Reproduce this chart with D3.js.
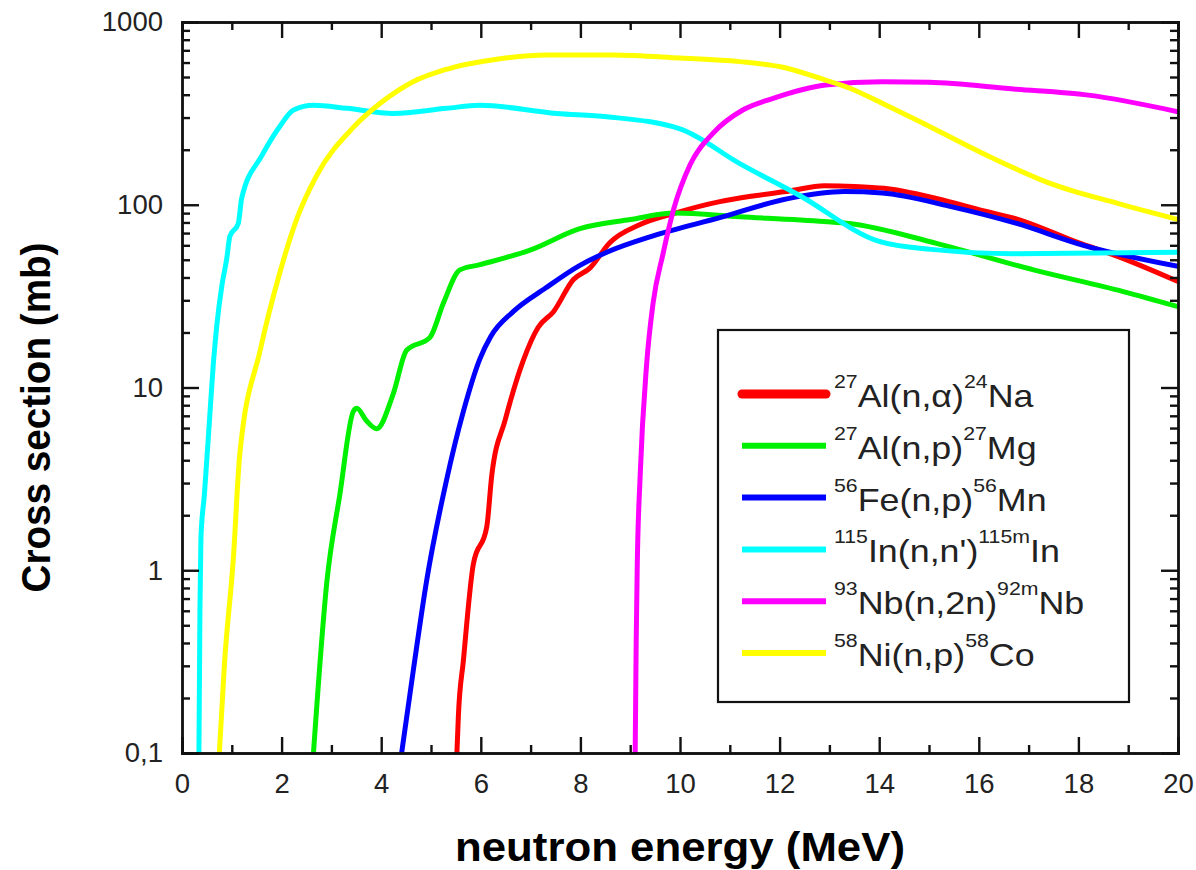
<!DOCTYPE html>
<html lang="en">
<head>
<meta charset="UTF-8">
<title>Activation cross sections</title>
<script src="https://d3js.org/d3.v7.min.js"></script>
<style>
    body { margin: 0; background: #fff; }
    svg { display: block; font-family: "Liberation Sans", Arial, sans-serif; }
    .axis path, .axis line { stroke: #111; stroke-width: 2.4; }
    .axis text { font-size: 27.5px; fill: #222; }
</style>
</head>
<body>
<svg id="chart" width="1196" height="870"></svg>
<script>
// series data: [neutron energy (MeV), cross section (mb)]
const alNa = [[5.52,0.1],[5.55,0.16],[5.65,0.32],[5.85,1.08],[6.12,1.73],[6.22,3.3],[6.49,6.65],[6.85,14],[7.15,21.3],
    [7.46,26],[7.86,39],[8.19,45],[8.59,62],[9.2,78],[9.9,90],[10.8,104],[11.5,112],[12.2,119],[12.9,127],[13.5,126],
    [14.1,123],[15.4,104],[16.0,94],[16.8,83],[18.0,62],[18.8,52],[20,38]];
const alMg = [[2.64,0.1],[2.91,0.87],[3.17,2.6],[3.44,7.4],[3.51,7.7],[3.7,6.6],[3.91,5.95],[4.24,9.2],[4.51,16],
    [4.98,18.8],[5.25,29],[5.58,44],[5.98,47],[6.99,56.5],[7.99,74],[9.0,83],[9.9,90],[11.2,86],[12.9,81],[13.4,79],
    [15.15,61.5],[17.1,44],[18.9,33.5],[20,27.7]];
const feMn = [[4.41,0.1],[4.65,0.29],[4.91,0.87],[5.31,3.1],[5.65,7.4],[5.98,14.3],[6.2,19],[6.65,26],[7.3,35],
    [7.99,46.6],[8.53,55],[9.46,67.6],[10.8,85],[12.17,108],[13.3,118],[14.06,116],[15.42,98],[16.76,79],[18.1,60],[20,46]];
const inIn = [[0.34,0.1],[0.36,0.6],[0.38,1.5],[0.45,2.6],[0.55,6.5],[0.63,13.6],[0.7,22],[0.8,36],[0.9,51],
    [0.96,67],[1.13,79],[1.2,109],[1.6,185],[1.97,270],[2.24,330],[2.64,350],[3.31,337],[4.24,316],[5.31,337],
    [5.98,350],[7.52,316],[8.53,303],[10.0,260],[11.2,168],[12.41,112],[14.0,63],[15.04,57],[16.7,54],[20,55]];
const nbNb = [[9.1,0.1],[9.12,0.4],[9.14,1.0],[9.2,3.3],[9.33,13.4],[9.46,29],[9.66,54],[9.87,94],[10.2,165],
    [10.66,246],[11.26,330],[11.87,382],[12.92,452],[14.06,471],[15.0,468],[16.7,430],[18.2,398],[20,323]];
const niCo = [[0.75,0.1],[0.85,0.3],[1.03,1.15],[1.16,4.3],[1.57,16],[1.97,43],[2.3,83],[2.7,144],[3.44,265],[3.98,359],
    [4.64,471],[5.31,551],[6.32,625],[7.32,660],[8.66,660],[10,635],[11.19,607],[12.02,569],[12.92,481],[13.41,434],
    [14.06,359],[14.75,291],[16.22,183],[17.43,131],[18.77,102],[20,83]];

const seriesData = [alNa, alMg, feMn, inIn, nbNb, niCo];
const seriesColors = ["#ff0000", "#00f000", "#0000ff", "#00ffff", "#ff00ff", "#ffff00"];
// legend labels, superscripts marked with "^"
const seriesLabels = [
    ["^27", "Al(n,α)", "^24", "Na"],
    ["^27", "Al(n,p)", "^27", "Mg"],
    ["^56", "Fe(n,p)", "^56", "Mn"],
    ["^115", "In(n,n')", "^115m", "In"],
    ["^93", "Nb(n,2n)", "^92m", "Nb"],
    ["^58", "Ni(n,p)", "^58", "Co"]
];

const xMajorTicks = [0, 2, 4, 6, 8, 10, 12, 14, 16, 18, 20];
const xMinorTicks = [1, 3, 5, 7, 9, 11, 13, 15, 17, 19];
const yMajorTicks = [0.1, 1, 10, 100, 1000];
const yTickLabels = ["0,1", "1", "10", "100", "1000"];
const xTitle = "neutron energy (MeV)";
const yTitle = "Cross section (mb)";

const plotLeft = 182, plotRight = 1178, plotTop = 22, plotBottom = 753;
const svg = d3.select("#chart");

const x = d3.scaleLinear().domain([0, 20]).range([plotLeft, plotRight]);
const y = d3.scaleLog().domain([0.1, 1000]).range([plotBottom, plotTop]);

const yMinorTicks = [];
[0.1, 1, 10, 100].forEach(d => { for (let k = 2; k <= 9; k++) yMinorTicks.push(d * k); });

// clip for the curves
svg.append("clipPath").attr("id", "plotClip")
    .append("rect").attr("x", plotLeft).attr("y", plotTop)
    .attr("width", plotRight - plotLeft).attr("height", plotBottom - plotTop);

const line = d3.line()
    .x(d => x(d[0]))
    .y(d => y(d[1]))
    .curve(d3.curveMonotoneX);

svg.append("g").attr("clip-path", "url(#plotClip)")
    .selectAll("path")
    .data(seriesData)
    .join("path")
    .attr("d", line)
    .attr("fill", "none")
    .attr("stroke", (d, i) => seriesColors[i])
    .attr("stroke-width", 5)
    .attr("stroke-linejoin", "round");

// axes, ticks pointing inward
function addAxis(axis, tx, ty) {
    const g = svg.append("g").attr("class", "axis")
        .attr("transform", `translate(${tx},${ty})`)
        .call(axis);
    g.select(".domain").attr("fill", "none");
    return g;
}

const bx = addAxis(d3.axisBottom(x).tickValues(xMajorTicks).tickSize(-16).tickPadding(15), 0, plotBottom);
bx.selectAll("text").attr("dy", "0.9em");
addAxis(d3.axisBottom(x).tickValues(xMinorTicks).tickSize(-8).tickFormat(""), 0, plotBottom);
addAxis(d3.axisTop(x).tickValues(xMajorTicks).tickSize(-16).tickFormat(""), 0, plotTop);
addAxis(d3.axisTop(x).tickValues(xMinorTicks).tickSize(-8).tickFormat(""), 0, plotTop);

addAxis(d3.axisLeft(y).tickValues(yMajorTicks).tickSize(-17).tickPadding(19)
    .tickFormat((d, i) => yTickLabels[i]), plotLeft, 0);
addAxis(d3.axisLeft(y).tickValues(yMinorTicks).tickSize(-8).tickFormat(""), plotLeft, 0);
addAxis(d3.axisRight(y).tickValues(yMajorTicks).tickSize(-17).tickFormat(""), plotRight, 0);
addAxis(d3.axisRight(y).tickValues(yMinorTicks).tickSize(-8).tickFormat(""), plotRight, 0);

// axis titles
svg.append("text")
    .attr("x", (plotLeft + plotRight) / 2).attr("y", 861)
    .attr("text-anchor", "middle")
    .attr("font-size", 40).attr("font-weight", "bold")
    .attr("textLength", 450).attr("lengthAdjust", "spacingAndGlyphs")
    .text(xTitle);

svg.append("text")
    .attr("transform", `translate(50,${(plotTop + plotBottom) / 2 + 30}) rotate(-90)`)
    .attr("text-anchor", "middle")
    .attr("font-size", 40).attr("font-weight", "bold")
    .attr("textLength", 350).attr("lengthAdjust", "spacingAndGlyphs")
    .text(yTitle);

// legend
const legend = svg.append("g");
legend.append("rect")
    .attr("x", 718).attr("y", 330).attr("width", 411).attr("height", 372)
    .attr("fill", "#fff").attr("stroke", "#111").attr("stroke-width", 2.2);

seriesLabels.forEach((parts, i) => {
    const ly = 394 + i * 51.8;
    legend.append("line")
        .attr("x1", 742).attr("x2", 826).attr("y1", ly).attr("y2", ly)
        .attr("stroke", seriesColors[i])
        .attr("stroke-width", i === 0 ? 9 : 6)
        .attr("stroke-linecap", i === 0 ? "round" : "butt");
    const t = legend.append("text")
        .attr("transform", `translate(834,${ly + 13}) scale(1.12,1)`)
        .attr("font-size", 32).attr("fill", "#222");
    parts.forEach(p => {
        if (p.startsWith("^")) {
            t.append("tspan").attr("font-size", 19).attr("dy", -19).text(p.slice(1));
        } else {
            t.append("tspan").attr("font-size", 32).attr("dy", 19).text(p);
        }
    });
});
</script>
</body>
</html>
